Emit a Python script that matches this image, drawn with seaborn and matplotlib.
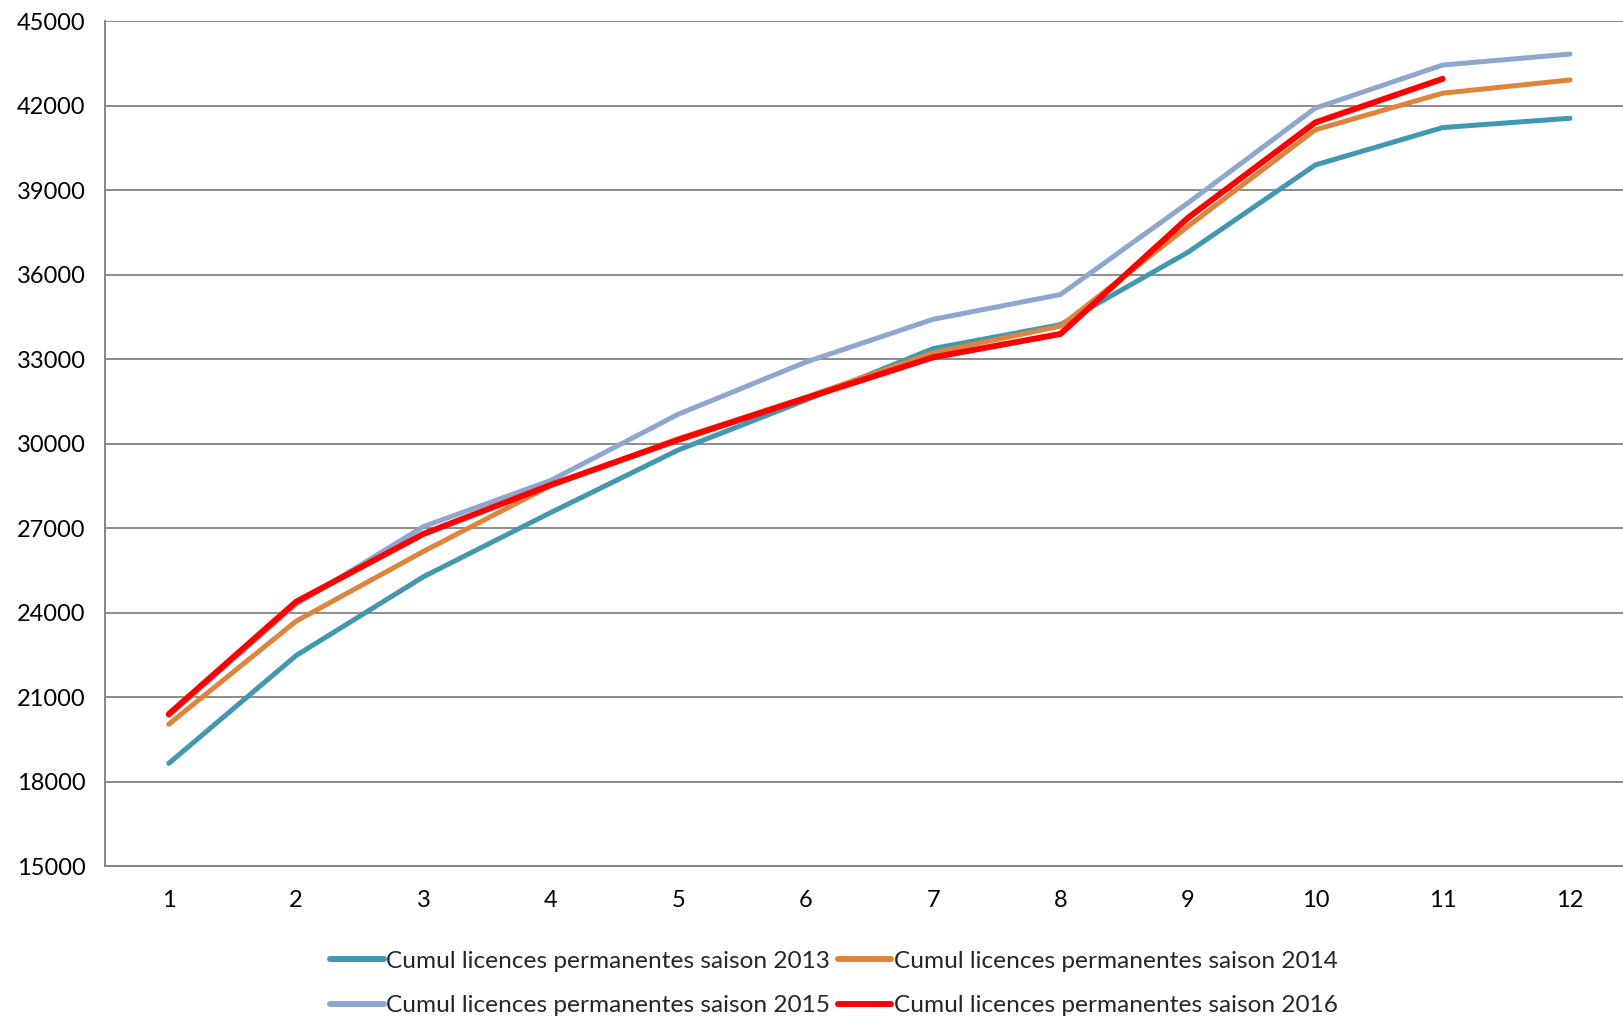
import matplotlib
matplotlib.use("Agg")
import matplotlib.pyplot as plt
import numpy as np
import pandas as pd
import seaborn as sns
from matplotlib.ticker import FixedLocator

# values
mois = list(range(1, 13))
saison_2013 = [18650, 22480, 25280, 27560, 29780, 31550, 33380, 34230, 36800, 39900, 41230, 41560]
saison_2014 = [20040, 23700, 26180, 28520, 30180, 31650, 33230, 34180, 37720, 41150, 42450, 42920]
saison_2015 = [20350, 24300, 27060, 28700, 31050, 32900, 34420, 35300, 38550, 41920, 43450, 43840]
saison_2016 = [20400, 24390, 26800, 28540, 30140, 31620, 33070, 33900, 38020, 41410, 42960, np.nan]

noms = ["Cumul licences permanentes saison 2013",
        "Cumul licences permanentes saison 2014",
        "Cumul licences permanentes saison 2015",
        "Cumul licences permanentes saison 2016"]
couleurs = ["#4198B0", "#DD853B", "#8FA7CE", "#FF0000"]
y_ticks = list(range(15000, 45001, 3000))

frames = []
for nom, vals in zip(noms, [saison_2013, saison_2014, saison_2015, saison_2016]):
    frames.append(pd.DataFrame({"mois": mois, "licences": vals, "serie": nom}))
df = pd.concat(frames, ignore_index=True).dropna()

sns.set_style("white")
plt.rcParams["font.family"] = ["Lato", "DejaVu Sans"]

fig = plt.figure(figsize=(16.24, 10.19), dpi=100)
# the plot area runs past the right edge, as in the original export
ax = fig.add_axes([0.0647, 0.150, 0.9413, 0.829])

sns.lineplot(data=df, x="mois", y="licences", hue="serie", hue_order=noms,
             palette=couleurs, linewidth=3.6, ax=ax, legend=True)
for line in ax.get_lines():
    line.set_solid_capstyle("round")
    line.set_solid_joinstyle("round")
ax.get_lines()[3].set_linewidth(4.3)

ax.set_xlim(0.5, 12.5)
ax.set_ylim(15000, 45000)
ax.set_yticks(y_ticks)
ax.set_xticks(mois)
ax.xaxis.set_minor_locator(FixedLocator(np.arange(0.5, 13, 1)))
ax.tick_params(axis="x", which="major", length=0, pad=17, labelsize=17, colors="black")
ax.tick_params(axis="x", which="minor", length=9, width=1.2, color="#868686", direction="out")
ax.tick_params(axis="y", which="major", length=9, width=1.2, color="#868686",
               direction="out", labelsize=17, pad=5, labelcolor="black")
ax.yaxis.grid(True, color="#8C8C8C", linewidth=1.4)
ax.set_axisbelow(True)
ax.set_xlabel("")
ax.set_ylabel("")

for side in ["top", "right"]:
    ax.spines[side].set_visible(False)
for side in ["left", "bottom"]:
    ax.spines[side].set_color("#868686")
    ax.spines[side].set_linewidth(1.4)

# legend: two rows, 2013/2014 on top, 2015/2016 below
handles, labels = ax.get_legend_handles_labels()
order = [0, 2, 1, 3]
ax.legend([handles[i] for i in order], [labels[i] for i in order],
          loc="upper center", bbox_to_anchor=(0.4767, -0.074), ncol=2,
          frameon=False, fontsize=17.6, handlelength=2.2, handletextpad=0.1,
          columnspacing=0.3, labelspacing=0.95)
for h in ax.get_legend().get_lines():
    h.set_linewidth(4.3)

fig.savefig("out.png", dpi=100)
